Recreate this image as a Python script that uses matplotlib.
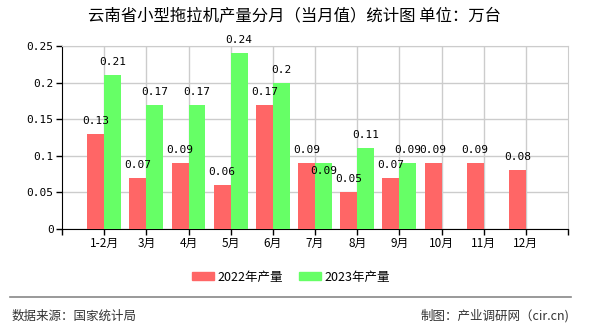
import matplotlib.pyplot as plt
from matplotlib.patches import Patch
from matplotlib.lines import Line2D

plt.rcParams['font.family'] = ['Noto Sans CJK SC', 'DejaVu Sans']

# data (万台)
months = ['1-2月', '3月', '4月', '5月', '6月', '7月', '8月', '9月', '10月', '11月', '12月']
prod_2022 = [0.13, 0.07, 0.09, 0.06, 0.17, 0.09, 0.05, 0.07, 0.09, 0.09, 0.08]
prod_2023 = [0.21, 0.17, 0.17, 0.24, 0.2, 0.09, 0.11, 0.09, None, None, None]
yticks = [0, 0.05, 0.1, 0.15, 0.2, 0.25]
ytick_labels = ['0', '0.05', '0.1', '0.15', '0.2', '0.25']

red = '#ff6666'
green = '#66ff66'
num_font = 'DejaVu Sans Mono'

fig = plt.figure(figsize=(5.9, 3.3), dpi=100)
ax = fig.add_axes([62 / 590, 1 - 229 / 330, 506 / 590, 183 / 330])

x = list(range(len(months)))
w = 0.4
ax.bar([i - w / 2 for i in x], prod_2022, width=w, color=red, zorder=3)
x23 = [i for i, v in zip(x, prod_2023) if v is not None]
v23 = [v for v in prod_2023 if v is not None]
ax.bar([i + w / 2 for i in x23], v23, width=w, color=green, zorder=3)

# value labels
for i, v in zip(x, prod_2022):
    ax.annotate(f'{v:g}', (i - w / 2, v), xytext=(0, 13), textcoords='offset pixels',
                ha='center', va='center', fontsize=8, family=num_font, zorder=4)
for i, v in zip(x23, v23):
    dy = -8 if v == prod_2022[i] else 13  # avoid overlapping the red label
    ax.annotate(f'{v:g}', (i + w / 2, v), xytext=(0, dy), textcoords='offset pixels',
                ha='center', va='center', fontsize=8, family=num_font, zorder=4)

ax.set_xlim(-1, len(months))
ax.set_ylim(0, 0.25)
ax.set_xticks(x)
ax.set_xticklabels(months, fontsize=8.5)
ax.set_xticks([-1, len(months)], minor=True)
ax.set_yticks(yticks)
ax.set_yticklabels(ytick_labels, fontsize=8, family=num_font)
ax.tick_params(axis='both', which='both', length=4, width=1, color='black', pad=2)

ax.grid(True, color='#cccccc', linewidth=1, zorder=0)
ax.spines['top'].set_color('#cccccc')
ax.spines['right'].set_color('#cccccc')
ax.spines['left'].set_color('black')
ax.spines['bottom'].set_color('black')

fig.text(294 / 590, 1 - 16 / 330, '云南省小型拖拉机产量分月（当月值）统计图 单位：万台',
         ha='center', va='center', fontsize=11.8)

handles = [Patch(color=red, label='2022年产量'), Patch(color=green, label='2023年产量')]
fig.legend(handles=handles, loc='center', bbox_to_anchor=(291 / 590, 1 - 277 / 330),
           ncol=2, frameon=False, fontsize=9, handlelength=1.75, handleheight=0.65,
           handletextpad=0.3, columnspacing=1.3)

fig.add_artist(Line2D([10 / 590, 571 / 590], [1 - 297 / 330, 1 - 297 / 330],
                      color='#888888', linewidth=1.2))
fig.text(12 / 590, 1 - 316 / 330, '数据来源：国家统计局', ha='left', va='center',
         fontsize=9, color='#333333')
fig.text(569 / 590, 1 - 316 / 330, '制图：产业调研网（cir.cn)', ha='right', va='center',
         fontsize=9, color='#333333')

fig.savefig('out.png', dpi=100)
